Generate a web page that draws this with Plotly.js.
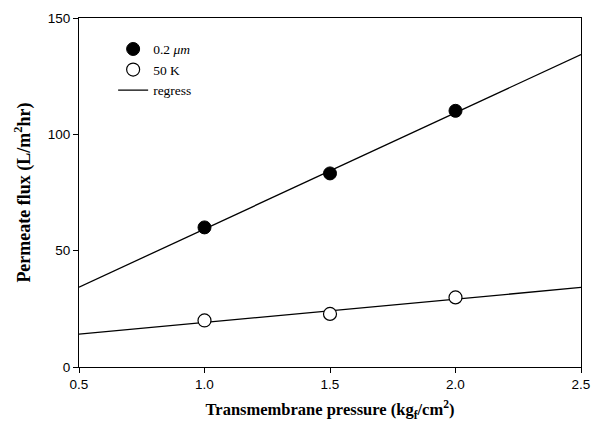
<!DOCTYPE html>
<html>
<head>
<meta charset="utf-8">
<script src="https://cdn.plot.ly/plotly-3.0.1.min.js"></script>
<style>html,body{margin:0;padding:0;background:#fff}#chart{width:599px;height:423px}</style>
</head>
<body>
<div id="chart"></div>
<script>
// Data
const pressure = [1.0, 1.5, 2.0];
const flux02um = [60.0, 83.2, 110.1];
const flux50K = [20.0, 22.8, 29.9];
const regressX = [0.5, 2.5];
const regress02um = [34.3, 134.3];
const regress50K = [14.1, 34.2];
const xTicks = [0.5, 1.0, 1.5, 2.0, 2.5];
const yTicks = [0, 50, 100, 150];

const serif = 'Liberation Serif, Times New Roman, serif';
const sans = 'Liberation Sans, Arial, sans-serif';

const traces = [
  {x: regressX, y: regress02um, mode: 'lines', name: 'regress', legendrank: 3,
   line: {color: '#000', width: 1.3}, showlegend: true},
  {x: regressX, y: regress50K, mode: 'lines', name: 'regress', legendrank: 4,
   line: {color: '#000', width: 1.3}, showlegend: false},
  {x: pressure, y: flux02um, mode: 'markers', name: '0.2 <i>μm</i>', legendrank: 1,
   marker: {symbol: 'circle', size: 13, color: '#000', line: {color: '#000', width: 1}}},
  {x: pressure, y: flux50K, mode: 'markers', name: '50 K', legendrank: 2,
   marker: {symbol: 'circle', size: 13, color: '#fff', line: {color: '#000', width: 1.2}}}
];

const layout = {
  width: 599, height: 423,
  margin: {l: 79, r: 18, t: 18, b: 56},
  paper_bgcolor: '#fff', plot_bgcolor: '#fff',
  showlegend: true,
  legend: {x: 0.068, y: 0.955, xanchor: 'left', yanchor: 'top',
           font: {family: serif, size: 13.5, color: '#000'}, bgcolor: 'rgba(0,0,0,0)',
           tracegroupgap: 0, itemwidth: 30},
  xaxis: {
    range: [0.5, 2.5], tickvals: xTicks, ticktext: xTicks.map(v => v.toFixed(1)),
    ticks: 'outside', ticklen: 5, tickcolor: '#000', showgrid: false, zeroline: false,
    showline: true, linecolor: '#000', linewidth: 1, mirror: true,
    tickfont: {family: sans, size: 13.5, color: '#000'},
    title: {text: '<b>Transmembrane pressure (kg<sub>f</sub>/cm<sup>2</sup>)</b>',
            font: {family: serif, size: 16.5, color: '#000'}, standoff: 12}
  },
  yaxis: {
    range: [0, 150], tickvals: yTicks,
    ticks: 'outside', ticklen: 5, tickcolor: '#000', showgrid: false, zeroline: false,
    showline: true, linecolor: '#000', linewidth: 1, mirror: true,
    tickfont: {family: sans, size: 13.5, color: '#000'},
    title: {text: '<b>Permeate flux (L/m<sup>2</sup>hr)</b>',
            font: {family: serif, size: 18, color: '#000'}, standoff: 12}
  }
};

Plotly.newPlot('chart', traces, layout, {displayModeBar: false, staticPlot: true});
</script>
</body>
</html>
